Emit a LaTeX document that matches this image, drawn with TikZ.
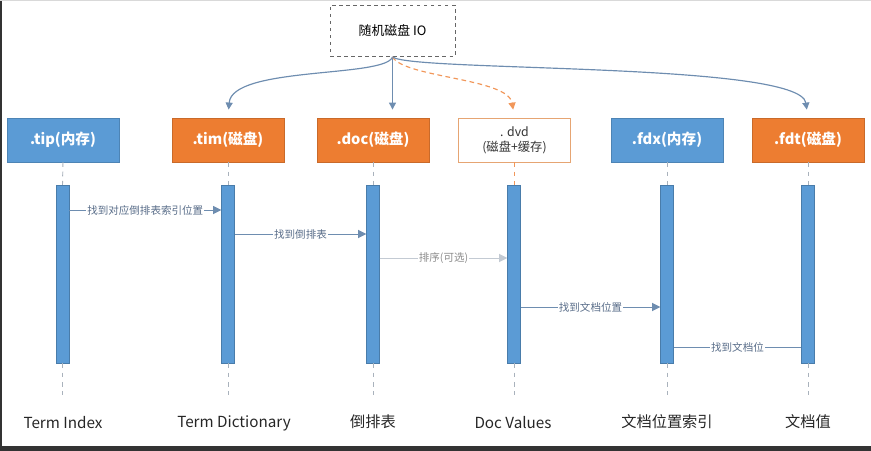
\documentclass[tikz,border=0pt]{standalone}
\usepackage{fontspec}
\setmainfont{Noto Sans CJK SC}
\usepackage{tikz}
\usetikzlibrary{arrows.meta}

\definecolor{boxblue}{HTML}{5B9BD5}
\definecolor{boxorange}{HTML}{ED7D31}
\definecolor{linkgray}{HTML}{6E8DB0}
\definecolor{msgtext}{HTML}{5A6E8A}
\definecolor{faint}{HTML}{C3CAD3}
\definecolor{lifegray}{HTML}{A9B2BC}

\tikzset{
	filebox/.style={minimum width=3.36cm, minimum height=1.32cm, inner sep=0pt,
		align=center, font=\fontsize{12.5}{14}\selectfont\bfseries},
	memfile/.style={filebox, fill=boxblue, draw=boxblue!85!black, text=white},
	diskfile/.style={filebox, fill=boxorange, draw=boxorange!85!black, text=white},
	bar/.style={fill=boxblue, draw=boxblue!80!black, minimum width=0.39cm,
		minimum height=5.34cm, inner sep=0pt},
	life/.style={draw=lifegray, dashed, dash pattern=on 4pt off 4pt, line width=0.8pt},
	link/.style={draw=linkgray, line width=1pt, -{Triangle[length=6pt,width=6pt]},
		shorten >=7pt},
	msg/.style={draw=linkgray, line width=0.8pt, -{Triangle[length=7pt,width=7pt]}},
	msglabel/.style={fill=white, inner sep=1pt, text=msgtext,
		font=\fontsize{9}{10}\selectfont},
	title/.style={font=\fontsize{13}{15}\selectfont, text=black!85}
}

\begin{document}
\begin{tikzpicture}[x=0.03cm, y=-0.03cm]
		\useasboundingbox (0,0) rectangle (871,451);
		% frame of the screenshot
		\fill[black!80] (0,446) rectangle (871,451);
		\fill[black!80] (0,0) rectangle (1.5,451);
		\draw[black!15] (0,0.5) -- (871,0.5);
		
		% the random disk access
		\node[draw=black!60, dashed, line width=0.8pt, minimum width=3.75cm,
			minimum height=1.53cm, font=\fontsize{11}{13}\selectfont] (io) at (392.5,31) {随机磁盘 IO};
		
		% index files
		\node[memfile] (tip) at (63,140) {.tip(内存)};
		\node[diskfile] (tim) at (228,140) {.tim(磁盘)};
		\node[diskfile] (doc) at (373,140) {.doc(磁盘)};
		\node[filebox, fill=white, draw=boxorange!60!brown!70, text=black!80,
			font=\fontsize{10.5}{13}\selectfont] (dvd) at (514.5,140) {. dvd\\(磁盘+缓存)};
		\node[memfile] (fdx) at (667,140) {.fdx(内存)};
		\node[diskfile] (fdt) at (808,140) {.fdt(磁盘)};
		
		% lifelines
		\foreach \f/\x in {tip/62.5, tim/228, doc/373, dvd/514, fdx/667, fdt/808} {
			\node[bar] (\f bar) at (\x,274) {};
		}
		\foreach \f in {tip, tim, doc, fdx, fdt} {
			\draw[life] (\f.south) -- (\f bar.north);
			\draw[life] (\f bar.south) -- ++(0,32);
		}
		\draw[life, draw=boxorange!80] (dvd.south -| dvdbar.north) -- (dvdbar.north);
		\draw[life] (dvdbar.south) -- ++(0,32);
		
		% arrows from the disk access
		\draw[link] (io.south) .. controls (385,78) and (232,66) .. (tim.north);
		\draw[link] (io.south) -- (io.south |- doc.north);
		\draw[link, draw=boxorange!80, dashed, dash pattern=on 4pt off 3pt]
			(io.south) .. controls (405,78) and (508,78) .. (dvd.north);
		\draw[link] (io.south) .. controls (412,72) and (800,62) .. (fdt.north);
		
		% messages
		\draw[msg] (tipbar.east |- 0,210) -- node[msglabel] {找到对应倒排表索引位置} (timbar.west |- 0,210);
		\draw[msg] (timbar.east |- 0,234) -- node[msglabel] {找到倒排表} (docbar.west |- 0,234);
		\draw[msg, draw=faint] (docbar.east |- 0,258) -- node[msglabel, text=black!45] {排序(可选)} (dvdbar.west |- 0,258);
		\draw[msg] (dvdbar.east |- 0,307) -- node[msglabel] {找到文档位置} (fdxbar.west |- 0,307);
		\draw[draw=linkgray, line width=0.8pt] (fdxbar.east |- 0,347) -- node[msglabel] {找到文档位} (fdtbar.west |- 0,347);
		
		% names
		\node[title] (n1) at (63,423) {Term Index};
		\node[title] (n2) at (234,423) {Term Dictionary};
		\node[title] (n3) at (373,422) {倒排表};
		\node[title] (n4) at (513,423) {Doc Values};
		\node[title] (n5) at (667,422) {文档位置索引};
		\node[title] (n6) at (808,422) {文档值};
	\end{tikzpicture}
\end{document}
